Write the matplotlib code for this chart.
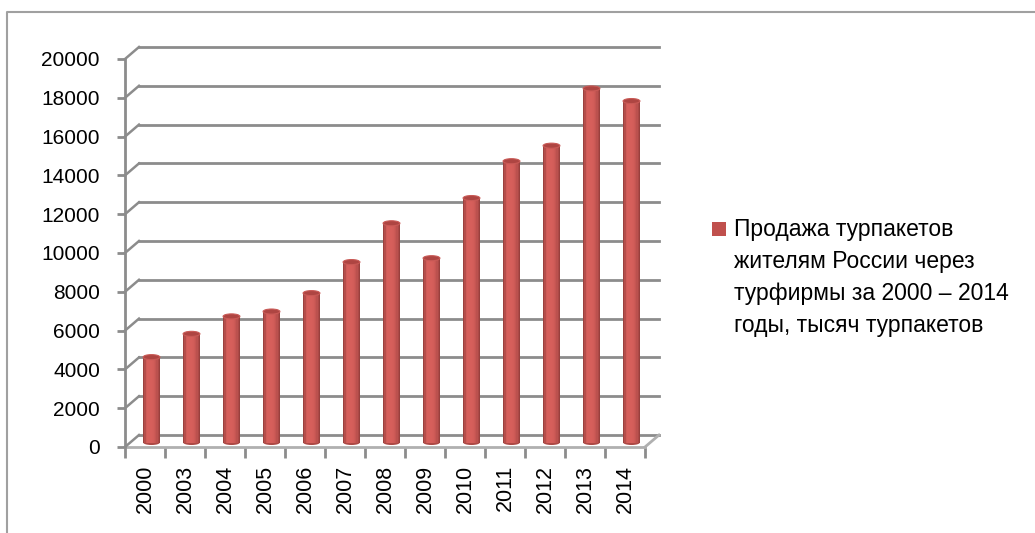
import numpy as np
import matplotlib.pyplot as plt
import matplotlib.transforms as mtransforms
from matplotlib.patches import Ellipse, Rectangle
from matplotlib.lines import Line2D
from matplotlib.colors import to_rgb

# данные
years = ['2000', '2003', '2004', '2005', '2006', '2007', '2008',
         '2009', '2010', '2011', '2012', '2013', '2014']
sales = [4400, 5600, 6500, 6750, 7700, 9300, 11300,
         9500, 12600, 14500, 15300, 18250, 17600]
yticks = [0, 2000, 4000, 6000, 8000, 10000, 12000, 14000, 16000, 18000, 20000]
legend_text = 'Продажа турпакетов\nжителям России через\nтурфирмы за 2000 – 2014\nгоды, тысяч турпакетов'

FONT = ['Liberation Sans', 'DejaVu Sans']

W, H = 1035, 533
fig = plt.figure(figsize=(W / 100, H / 100), dpi=100)

# рамка диаграммы
fig.add_artist(Line2D([7 / W, 7 / W, 1.0], [1 - 532 / H, 1 - 12 / H, 1 - 12 / H],
                      transform=fig.transFigure, color='#A0A0A0', lw=1.5))

x0, x1, y0, y1 = 125, 645, 447, 59
ax = fig.add_axes([x0 / W, 1 - y0 / H, (x1 - x0) / W, (y0 - y1) / H])
n = len(years)
ax.set_xlim(-0.5, n - 0.5)
ax.set_ylim(0, 20000)
for s in ax.spines.values():
    s.set_visible(False)

grid_c = '#8C8C8C'
back = ax.transData + mtransforms.ScaledTranslation(0.14, 0.12, fig.dpi_scale_trans)
mid = ax.transData + mtransforms.ScaledTranslation(0.065, 0.045, fig.dpi_scale_trans)

# сетка на задней стенке и соединения с осью
for v in yticks:
    ax.plot([-0.5, n - 0.5], [v, v], color=grid_c, lw=2, transform=back, clip_on=False, zorder=1)
    xa, ya = ax.transData.transform((-0.5, v))
    xb, yb = back.transform((-0.5, v))
    fig.add_artist(Line2D([xa / W, xb / W], [ya / H, yb / H], color=grid_c, lw=1.8,
                          transform=fig.transFigure, zorder=1))
# пол
xa, ya = ax.transData.transform((n - 0.5, 0))
xb, yb = back.transform((n - 0.5, 0))
fig.add_artist(Line2D([xa / W, xb / W], [ya / H, yb / H], color='#B0B0B0', lw=2,
                      transform=fig.transFigure, zorder=1))
ax.plot([-0.5, n - 0.5], [0, 0], color='#B0B0B0', lw=2, clip_on=False, zorder=2)
ax.plot([-0.5, -0.5], [0, 20000], color=grid_c, lw=2, clip_on=False, zorder=2)

# цилиндры
base = np.array(to_rgb('#C0504D'))
dark = np.array(to_rgb('#8E3A38'))
light = np.array(to_rgb('#D65F5B'))
bw = 0.42
strips = 14
ell_h = 260
for i, v in enumerate(sales):
    for k in range(strips):
        t = (k + 0.5) / strips
        if t < 0.35:
            c = dark + (light - dark) * min(1, t / 0.2)
        else:
            c = light + (dark - light) * ((t - 0.35) / 0.65) ** 3
        ax.add_patch(Rectangle((i - bw / 2 + k * bw / strips, 0), bw / strips * 1.05, v,
                               facecolor=c, edgecolor='none', transform=mid, zorder=3))
    ax.add_patch(Ellipse((i, 0), bw, ell_h, facecolor=base * 0.9, edgecolor='none',
                         transform=mid, zorder=2.9))
    ax.add_patch(Ellipse((i, v), bw, ell_h, facecolor='#AE4542', edgecolor='#C95A56',
                         lw=0.8, transform=mid, zorder=4))

# оси
ax.set_yticks(yticks)
ax.set_yticklabels([str(v) for v in yticks], fontsize=15, family=FONT)
ax.tick_params(axis='y', length=6, width=2, color=grid_c, pad=12)
ax.set_xticks(range(n))
ax.set_xticklabels(years, rotation=90, fontsize=15.5, family=FONT)
ax.tick_params(axis='x', which='major', length=0, pad=13)
ax.set_xticks(np.arange(-0.5, n, 1), minor=True)
ax.tick_params(axis='x', which='minor', length=8, width=2, color=grid_c, direction='out')
ax.patch.set_visible(False)

# легенда
fig.add_artist(Rectangle((712 / W, 1 - 236 / H), 14 / W, 14 / H, facecolor='#C0504D',
                         edgecolor='none', transform=fig.transFigure))
fig.text(734 / W, 1 - 218 / H, legend_text, fontsize=16.5, va='top', ha='left',
         family=FONT, linespacing=1.5)

fig.savefig('out.png', dpi=100)
